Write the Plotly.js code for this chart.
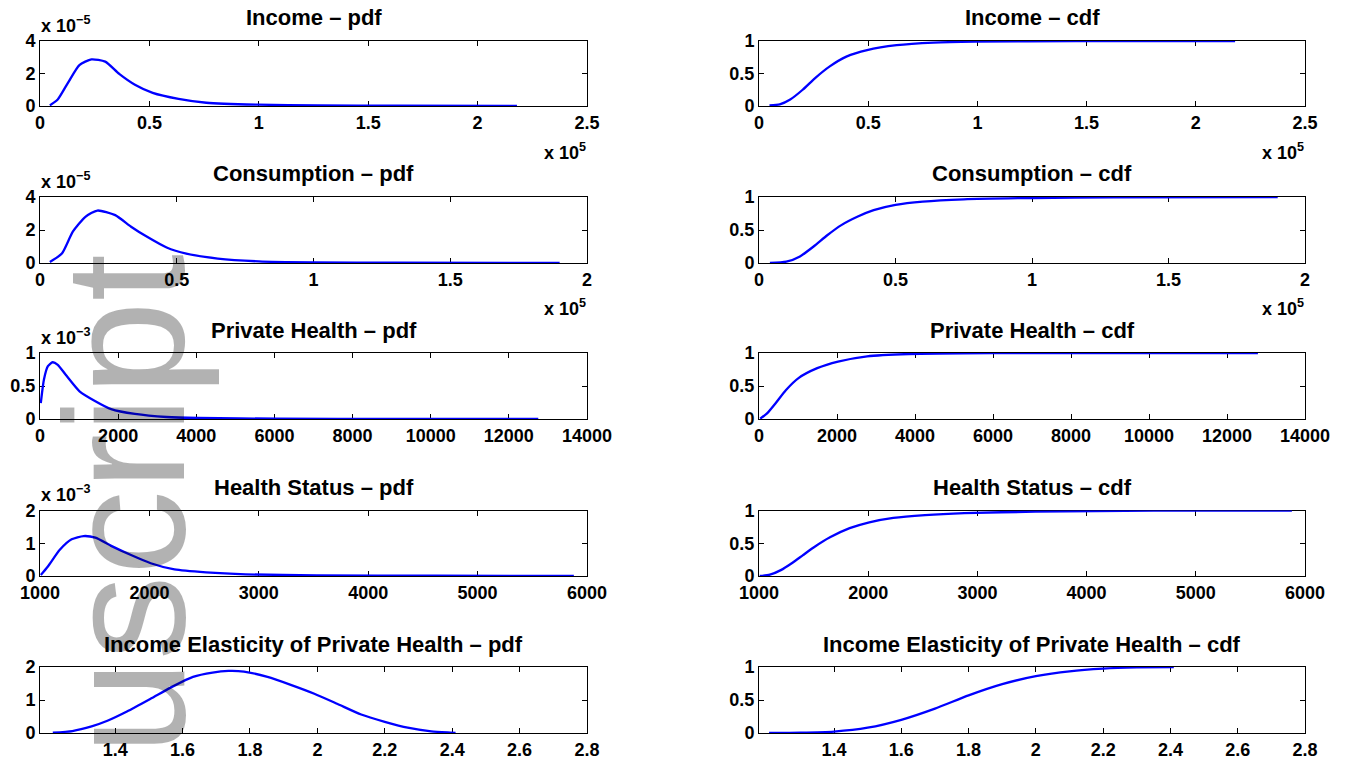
<!DOCTYPE html>
<html>
<head>
<meta charset="utf-8">
<script src="https://cdn.plot.ly/plotly-3.0.1.min.js"></script>
<style>html,body{margin:0;padding:0;background:#fff;}#chart{width:1352px;height:764px;}</style>
</head>
<body>
<div id="chart"></div>
<script>
// ---------- data ----------
// Income (x in units of 1e5, pdf in units of 1e-5)
const incomePdfX = [0.045, 0.081, 0.127, 0.18, 0.235, 0.298, 0.362, 0.434, 0.515, 0.633, 0.76, 0.995, 1.27, 1.63, 2.18];
const incomePdfY = [0.04, 0.4, 1.41, 2.52, 2.87, 2.73, 1.98, 1.31, 0.81, 0.44, 0.2, 0.08, 0.04, 0.02, 0.0];
const incomeCdfX = [0.048, 0.095, 0.143, 0.2, 0.257, 0.324, 0.4, 0.495, 0.63, 0.8, 0.99, 1.45, 2.18];
const incomeCdfY = [0.01, 0.025, 0.1, 0.25, 0.43, 0.61, 0.76, 0.86, 0.935, 0.975, 0.99, 1.0, 1.0];
// Consumption (x in units of 1e5, pdf in units of 1e-5)
const consPdfX = [0.036, 0.08, 0.12, 0.166, 0.21, 0.275, 0.333, 0.39, 0.463, 0.535, 0.65, 0.8, 1.0, 1.3, 1.9];
const consPdfY = [0.06, 0.57, 1.9, 2.8, 3.18, 2.9, 2.2, 1.6, 0.94, 0.57, 0.27, 0.1, 0.04, 0.02, 0.0];
const consCdfX = [0.04, 0.1, 0.15, 0.2, 0.25, 0.3, 0.36, 0.42, 0.5, 0.6, 0.75, 1.0, 1.3, 1.9];
const consCdfY = [0.0, 0.02, 0.1, 0.25, 0.42, 0.57, 0.7, 0.8, 0.88, 0.93, 0.965, 0.985, 0.995, 1.0];
// Private Health (pdf in units of 1e-3)
const phPdfX = [20, 101, 202, 324, 455, 658, 1012, 1417, 1822, 2430, 3239, 4049, 6073, 9109, 12753];
const phPdfY = [0.24, 0.6, 0.8, 0.86, 0.82, 0.67, 0.42, 0.27, 0.15, 0.076, 0.03, 0.015, 0.005, 0.002, 0.0];
const phCdfX = [32, 213, 426, 693, 1013, 1493, 2026, 2772, 3838, 5970, 12793];
const phCdfY = [0.005, 0.09, 0.24, 0.44, 0.62, 0.77, 0.87, 0.95, 0.985, 1.0, 1.0];
// Health Status (pdf in units of 1e-3)
const hsPdfX = [1007, 1072, 1181, 1289, 1398, 1506, 1651, 1832, 2012, 2229, 2518, 2880, 3531, 4615, 5880];
const hsPdfY = [0.03, 0.29, 0.8, 1.12, 1.22, 1.17, 0.92, 0.64, 0.39, 0.2, 0.11, 0.05, 0.02, 0.01, 0.0];
const hsCdfX = [1007, 1100, 1200, 1300, 1400, 1500, 1650, 1830, 2010, 2230, 2520, 2880, 3530, 4615, 5880];
const hsCdfY = [0.0, 0.02, 0.09, 0.195, 0.315, 0.435, 0.59, 0.73, 0.82, 0.887, 0.93, 0.96, 0.982, 0.998, 1.0];
// Income Elasticity of Private Health
const elPdfX = [1.215, 1.273, 1.33, 1.377, 1.435, 1.504, 1.573, 1.631, 1.689, 1.736, 1.782, 1.852, 1.921, 1.991, 2.06, 2.13, 2.2, 2.268, 2.338, 2.395, 2.41];
const elPdfY = [0.01, 0.06, 0.2, 0.37, 0.65, 1.03, 1.42, 1.7, 1.83, 1.88, 1.86, 1.7, 1.46, 1.19, 0.88, 0.56, 0.34, 0.16, 0.05, 0.01, 0.0];
const elCdfX = [1.207, 1.3, 1.4, 1.5, 1.6, 1.7, 1.8, 1.9, 2.0, 2.1, 2.2, 2.3, 2.41];
const elCdfY = [0.0, 0.005, 0.022, 0.08, 0.2, 0.37, 0.57, 0.74, 0.86, 0.935, 0.975, 0.993, 1.0];

const titles = ["Income \u2013 pdf", "Income \u2013 cdf", "Consumption \u2013 pdf", "Consumption \u2013 cdf",
  "Private Health \u2013 pdf", "Private Health \u2013 cdf", "Health Status \u2013 pdf", "Health Status \u2013 cdf",
  "Income Elasticity of Private Health \u2013 pdf", "Income Elasticity of Private Health \u2013 cdf"];
const yExponents = ["\u22125", null, "\u22125", null, "\u22123", null, "\u22123", null, null, null];
const xExponents = ["5", "5", "5", "5", null, null, null, null, null, null];
const watermarkText = "Manuscript";

const series = [
  [incomePdfX, incomePdfY], [incomeCdfX, incomeCdfY],
  [consPdfX, consPdfY], [consCdfX, consCdfY],
  [phPdfX, phPdfY], [phCdfX, phCdfY],
  [hsPdfX, hsPdfY], [hsCdfX, hsCdfY],
  [elPdfX, elPdfY], [elCdfX, elCdfY]
];

// ---------- layout ----------
const W = 1352, H = 764;
const px = x => x / W, py = y => 1 - y / H;
const rowTop = [41, 197, 353, 510.5, 667];
const rowBot = [106, 263, 419, 576, 733];
const colL = [40, 759], colR = [587, 1305];

const xCfg = [
  {range: [0, 2.5], dtick: 0.5, tick0: 0},
  {range: [0, 2], dtick: 0.5, tick0: 0},
  {range: [0, 14000], dtick: 2000, tick0: 0, tickformat: "d"},
  {range: [1000, 6000], dtick: 1000, tick0: 1000, tickformat: "d"},
  {range: [1.177, 2.8], tickvals: [1.4, 1.6, 1.8, 2, 2.2, 2.4, 2.6, 2.8]}
];
const yPdfCfg = [
  {range: [0, 4], dtick: 2},
  {range: [0, 4], dtick: 2},
  {range: [0, 1], dtick: 0.5},
  {range: [0, 2], dtick: 1},
  {range: [0, 2], dtick: 1}
];
const yCdfCfg = {range: [0, 1], dtick: 0.5};

const FONT = "Liberation Sans, Arial, Helvetica, sans-serif";
const tickfont = {family: FONT, size: 18, color: "#000", weight: 700};
const baseAxis = {
  showline: true, mirror: "ticks", linecolor: "#000", linewidth: 1,
  ticks: "inside", ticklen: 5, tickcolor: "#000", tickwidth: 1,
  showgrid: false, zeroline: false, tickfont: tickfont,
  exponentformat: "none", fixedrange: true, layer: "below traces"
};

const traces = [];
const layout = {
  width: W, height: H, margin: {l: 0, r: 0, t: 0, b: 0},
  paper_bgcolor: "#fff", plot_bgcolor: "#fff", showlegend: false,
  annotations: []
};

for (let i = 0; i < 10; i++) {
  const row = Math.floor(i / 2), col = i % 2;
  const n = i + 1;
  const xa = "xaxis" + (n === 1 ? "" : n), ya = "yaxis" + (n === 1 ? "" : n);
  const xr = "x" + (n === 1 ? "" : n), yr = "y" + (n === 1 ? "" : n);
  traces.push({
    x: series[i][0], y: series[i][1], type: "scatter", mode: "lines",
    line: {color: "#0000ff", width: 2.3, shape: "spline", smoothing: 0.6},
    xaxis: xr, yaxis: yr, hoverinfo: "skip", cliponaxis: false
  });
  layout[xa] = Object.assign({}, baseAxis, xCfg[row], {
    domain: [px(colL[col]), px(colR[col])], anchor: yr
  });
  layout[ya] = Object.assign({}, baseAxis, col === 0 ? yPdfCfg[row] : yCdfCfg, {
    domain: [py(rowBot[row]), py(rowTop[row])], anchor: xr
  });
  // title
  layout.annotations.push({
    text: titles[i], xref: "paper", yref: "paper",
    x: px((colL[col] + colR[col]) / 2), y: py(rowTop[row] - 23),
    xanchor: "center", yanchor: "middle", showarrow: false,
    font: {family: FONT, size: 22, color: "#000", weight: 700}
  });
  if (yExponents[i]) {
    layout.annotations.push({
      text: "x 10<sup>" + yExponents[i] + "</sup>", xref: "paper", yref: "paper",
      x: px(colL[col] - 1), y: py(rowTop[row] - 3),
      xanchor: "left", yanchor: "bottom", showarrow: false,
      font: {family: FONT, size: 18, color: "#000", weight: 700}
    });
  }
  if (xExponents[i]) {
    layout.annotations.push({
      text: "x 10<sup>" + xExponents[i] + "</sup>", xref: "paper", yref: "paper",
      x: px(colR[col] + 1), y: py(rowBot[row] + 45),
      xanchor: "right", yanchor: "middle", showarrow: false,
      font: {family: FONT, size: 18, color: "#000", weight: 700}
    });
  }
}

// watermark
layout.annotations.push({
  text: watermarkText, xref: "paper", yref: "paper",
  x: px(124), y: py(253), xanchor: "center", yanchor: "top",
  textangle: -90, showarrow: false,
  font: {family: FONT, size: 170, color: "rgba(0,0,0,0.3)"}
});

Plotly.newPlot("chart", traces, layout, {staticPlot: true, displayModeBar: false});
</script>
</body>
</html>
